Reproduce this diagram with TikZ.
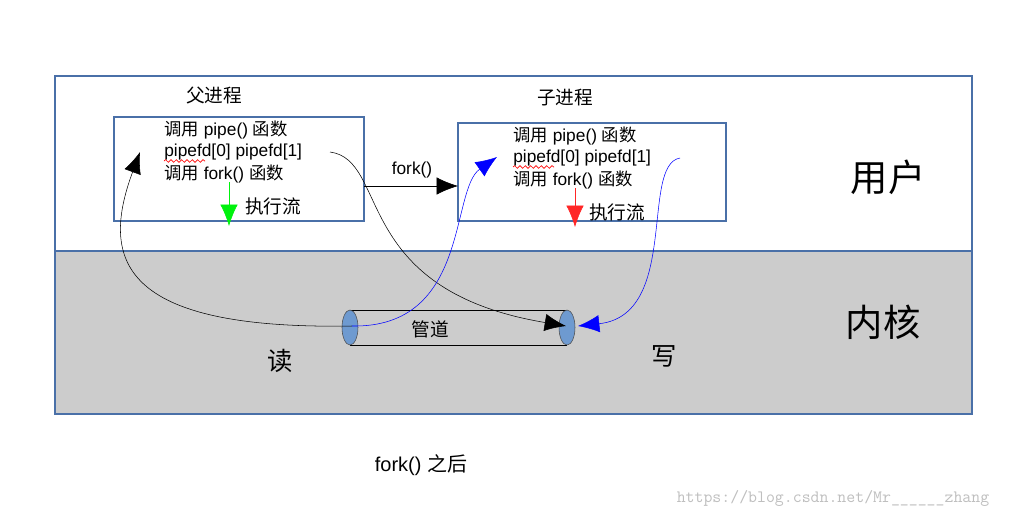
\documentclass[tikz,border=0pt]{standalone}
\usepackage{fontspec}
\setmainfont{Liberation Sans}
\newfontfamily\cjk{Noto Sans CJK SC}
\usetikzlibrary{arrows.meta,decorations.pathmorphing}
\definecolor{frame}{HTML}{4A70A8}
\definecolor{pipeblue}{HTML}{6E9AD0}
\tikzset{
  txt/.style={anchor=west,inner sep=0pt,font=\fontsize{13}{13}\selectfont},
  lbl/.style={inner sep=0pt,font=\fontsize{14}{14}\selectfont\cjk},
  big/.style={inner sep=0pt,font=\fontsize{28}{28}\selectfont\cjk},
  tip/.style={-{Latex[length=16pt,width=13pt]}},
  box/.style={draw=frame,line width=0.8pt}
}
\begin{document}
\begin{tikzpicture}[x=0.75pt,y=-0.75pt]
\useasboundingbox (0,0) rectangle (1024,519);
\fill[white] (0,0) rectangle (1024,519);
\fill[white] (55,76) rectangle (972,251);
\fill[black!20] (55,251) rectangle (972,414);
\draw[box] (55,76) rectangle (972,414);
\draw[frame,line width=0.8pt] (55,251) -- (972,251);
% parent
\node[lbl] (pl) at (214,95) {父进程};
\draw[box] (114,117) rectangle (364,221);
\node[txt] (p1) at (164,130) {{\cjk 调用} pipe() {\cjk 函数}};
\node[txt] (p2) at (164,152) {pipefd[0] pipefd[1]};
\node[txt] (p3) at (164,174) {{\cjk 调用} fork() {\cjk 函数}};
\draw[red,line width=0.5pt,decorate,decoration={snake,amplitude=1pt,segment length=4pt}] (164,161) -- (205,161);
\coordinate (ga) at (229,182); \coordinate (gb) at (229,226);
\draw[tip,green!90!teal] (ga) -- (gb);
\node[lbl] (pe) at (273,206) {执行流};
% child
\node[lbl] (cl) at (565,98) {子进程};
\draw[box] (458,123) rectangle (726,221);
\node[txt] (c1) at (513,136) {{\cjk 调用} pipe() {\cjk 函数}};
\node[txt] (c2) at (513,158) {pipefd[0] pipefd[1]};
\node[txt] (c3) at (513,180) {{\cjk 调用} fork() {\cjk 函数}};
\draw[red,line width=0.5pt,decorate,decoration={snake,amplitude=1pt,segment length=4pt}] (513,167) -- (554,167);
\coordinate (ra) at (575,188); \coordinate (rb) at (575,227);
\draw[tip,red!85!white] (ra) -- (rb);
\node[lbl] (ce) at (617,212) {执行流};
% fork arrow
\coordinate (fa) at (364,186); \coordinate (fb) at (458,186);
\draw[tip,black] (fa) -- (fb);
\node[inner sep=0pt,font=\fontsize{13}{13}\selectfont] (fl) at (412,170) {fork()};
\node[big] (u) at (888,177) {用户};
\node[big] (k) at (883,322) {内核};
% pipe
\draw[black] (350,310) -- (567,310) (350,345) -- (567,345);
\draw[black!70,fill=pipeblue] (350,327.5) ellipse (8 and 17.5);
\draw[black!70,fill=pipeblue] (567,327.5) ellipse (8 and 17.5);
\node[lbl] (pp) at (430,329) {管道};
\node[lbl,font=\fontsize{19}{19}\selectfont\cjk] (rd) at (280,361) {读};
\node[lbl,font=\fontsize{19}{19}\selectfont\cjk] (wr) at (664,356) {写};
% curves
\coordinate (L) at (352,326); \coordinate (R) at (578,326);
\draw[tip,black] (L) .. controls (120,330) and (100,260) .. (140,152);
\draw[tip,black] (330,152) .. controls (390,160) and (350,290) .. (566,326);
\draw[tip,blue] (L) .. controls (470,328) and (450,190) .. (497,157);
\draw[tip,blue] (680,158) .. controls (640,165) and (680,315) .. (R);
\node[inner sep=0pt,font=\fontsize{15}{15}\selectfont] (cap) at (421,465) {fork() {\cjk 之后}};
\node[inner sep=0pt,text=black!25,font=\fontsize{13}{13}\selectfont\ttfamily] (wm) at (833,498) {https://blog.csdn.net/Mr\_\_\_\_\_\_zhang};
\end{tikzpicture}
\end{document}
